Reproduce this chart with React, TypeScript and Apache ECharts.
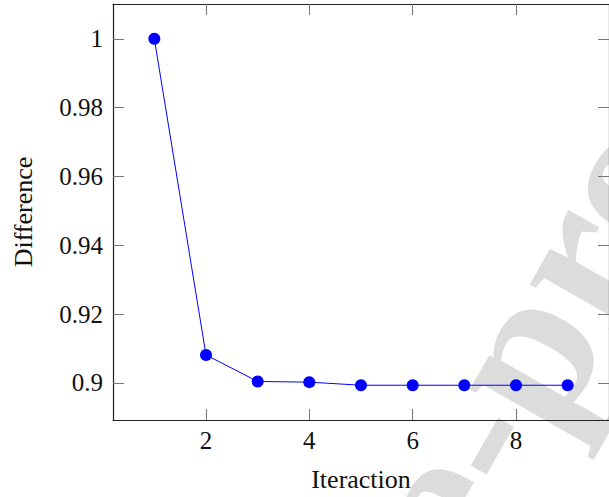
import React, { useEffect, useRef } from "react";
import * as echarts from "echarts";

const xValues = [1, 2, 3, 4, 5, 6, 7, 8, 9];
const yValues = [1, 0.9081, 0.9004, 0.9002, 0.8993, 0.8993, 0.8993, 0.8993, 0.8993];
const xTicks = [2, 4, 6, 8];
const yTicks = [0.9, 0.92, 0.94, 0.96, 0.98, 1];
const xTitle = "Iteraction";
const yTitle = "Difference";
const watermarkBefore = "Journal Pre";
const watermarkAfter = "-proof";

const FONT = '"Liberation Serif", "Times New Roman", serif';

export default function App() {
  const ref = useRef<HTMLDivElement>(null);
  useEffect(() => {
    document.body.style.margin = "0";
    const chart = echarts.init(ref.current!, null, { renderer: "svg" });
    const rot = (60.3 * Math.PI) / 180;
    const axisLine = { show: true, onZero: false, lineStyle: { color: "#222", width: 1.2 } };
    const tick = { inside: true, length: 11, lineStyle: { color: "#777", width: 1 } };
    const wmStyle = {
      fill: "#dcdcdc",
      fontSize: 212,
      fontWeight: "bold",
      fontFamily: "Liberation Serif",
      textVerticalAlign: "middle",
    };
    const ax = 456;
    const ay = 466;
    chart.setOption({
      animation: false,
      backgroundColor: "#fff",
      textStyle: { fontFamily: FONT },
      graphic: [
        {
          type: "text",
          x: ax,
          y: ay,
          rotation: rot,
          z: -10,
          silent: true,
          style: { ...wmStyle, text: watermarkAfter, textAlign: "left" },
        },
        {
          type: "text",
          x: ax,
          y: ay,
          rotation: rot,
          z: -10,
          silent: true,
          style: { ...wmStyle, text: watermarkBefore, textAlign: "right" },
        },
      ],
      grid: { left: 113, top: 4, width: 504, height: 418, containLabel: false },
      xAxis: [
        {
          type: "value",
          min: 0.2,
          max: 9.8,
          position: "bottom",
          axisLine,
          axisTick: { ...tick, customValues: xTicks },
          axisLabel: { customValues: xTicks, color: "#111", fontSize: 25, fontFamily: FONT, margin: 8 },
          splitLine: { show: false },
          name: xTitle,
          nameLocation: "middle",
          nameGap: 46,
          nameTextStyle: { color: "#111", fontSize: 26, fontFamily: FONT },
        },
        {
          type: "value",
          min: 0.2,
          max: 9.8,
          position: "top",
          axisLine,
          axisTick: { ...tick, customValues: xTicks },
          axisLabel: { show: false },
          splitLine: { show: false },
        },
      ],
      yAxis: [
        {
          type: "value",
          min: 0.8892,
          max: 1.0101,
          position: "left",
          axisLine,
          axisTick: { ...tick, customValues: yTicks },
          axisLabel: {
            customValues: yTicks,
            color: "#111",
            fontSize: 25,
            fontFamily: FONT,
            margin: 10,
            formatter: (v: number) => String(Math.round(v * 100) / 100),
          },
          splitLine: { show: false },
          name: yTitle,
          nameLocation: "middle",
          nameGap: 77,
          nameTextStyle: { color: "#111", fontSize: 26, fontFamily: FONT },
        },
        {
          type: "value",
          min: 0.8892,
          max: 1.0101,
          position: "right",
          axisLine,
          axisTick: { ...tick, customValues: yTicks },
          axisLabel: { show: false },
          splitLine: { show: false },
        },
      ],
      series: [
        {
          type: "line",
          data: xValues.map((x, i) => [x, yValues[i]]),
          symbol: "circle",
          symbolSize: 12,
          lineStyle: { color: "#0000ff", width: 1 },
          itemStyle: { color: "#0000ff" },
          z: 5,
        },
      ],
    });
    return () => chart.dispose();
  }, []);
  return <div ref={ref} style={{ width: 609, height: 497, position: "absolute", left: 0, top: 0 }} />;
}
